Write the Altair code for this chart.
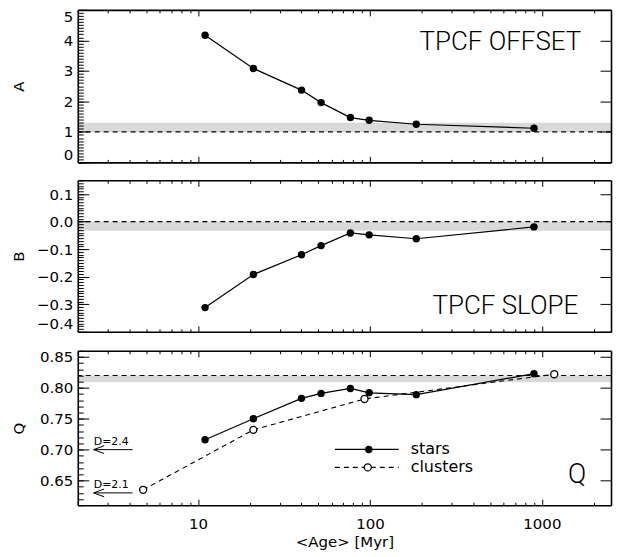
import altair as alt
import pandas as pd

# ---------------- data ----------------
age_stars = [11, 21, 40, 52, 77, 99, 186, 900]
a_stars = [4.17, 3.08, 2.37, 1.96, 1.47, 1.38, 1.25, 1.12]
b_stars = [-0.312, -0.192, -0.120, -0.087, -0.041, -0.048, -0.062, -0.019]
q_stars = [0.716, 0.750, 0.783, 0.791, 0.799, 0.792, 0.789, 0.823]
age_clusters = [4.8, 21, 93, 1180]
q_clusters = [0.635, 0.732, 0.782, 0.822]

arrow_labels = ["D=2.4", "D=2.1"]
arrow_q = [0.70, 0.63]

band_a = [1.0, 1.3]
ref_a = 1.0
band_b = [-0.033, 0.0]
ref_b = 0.0
band_q = [0.809, 0.820]
ref_q = 0.82

x_major = [10, 100, 1000]
x_minor = [2, 3, 4, 5, 6, 7, 8, 9, 20, 30, 40, 50, 60, 70, 80, 90,
           200, 300, 400, 500, 600, 700, 800, 900, 2000]
a_major = [0, 1, 2, 3, 4, 5]
a_minor = [round(i * 0.1, 2) for i in range(0, 51)]
b_major = [-0.4, -0.3, -0.2, -0.1, 0.0, 0.1]
b_minor = [round(-0.4 + i * 0.01, 3) for i in range(0, 56)]
q_major = [0.65, 0.70, 0.75, 0.80, 0.85]
q_minor = [round(0.61 + i * 0.01, 3) for i in range(0, 26)]

# ---------------- style ----------------
FONT = "DejaVu Sans"
BIG = "Roboto"
PW = 535
XT_MAJ, XT_MIN = 6, 3
YT_MAJ, YT_MIN = 11, 5.5
GRAY = "#d9d9d9"
DASH = [5, 4]
FRAME_W = 1.6

xs = alt.Scale(type="log", domain=[2, 2524], nice=False)

stars_df = pd.DataFrame({"age": age_stars, "A": a_stars, "B": b_stars, "Q": q_stars})
clusters_df = pd.DataFrame({"age": age_clusters, "Q": q_clusters})
arrows_df = pd.DataFrame({"q": arrow_q, "label": arrow_labels})


def text_layer(txt, x, y, size, font=FONT, weight="normal", align="center", baseline="alphabetic"):
    return alt.Chart(pd.DataFrame({"t": [txt]})).mark_text(
        font=font, fontSize=size, fontWeight=weight, align=align, baseline=baseline, color="black"
    ).encode(text="t:N", x=alt.value(x), y=alt.value(y))


def tick_axis(orient, values, offset, size):
    return alt.Axis(orient=orient, values=values, offset=offset, tickSize=size, domain=False,
                    grid=False, labels=False, title=None, zindex=1)


def frame_axis(orient):
    return alt.Axis(orient=orient, ticks=False, labels=False, grid=False, domain=True,
                    domainColor="black", domainWidth=FRAME_W, title=None, zindex=1)


def panel(yfield, ydom, ymaj, ymin, yfmt, ytitle, h, flush, band, ref, xlabels, extra):
    ys = alt.Scale(domain=ydom, nice=False, zero=False)
    base = alt.Chart(stars_df).mark_point(opacity=0)

    def X(a):
        return alt.X("age:Q", scale=xs, axis=a)

    def Y(a):
        return alt.Y(f"{yfield}:Q", scale=ys, axis=a)

    if xlabels:
        xb_major = alt.Axis(orient="bottom", values=x_major, offset=-XT_MAJ, tickSize=XT_MAJ,
                            domain=False, grid=False, labels=True, format="d", labelPadding=11,
                            title="<Age> [Myr]", titlePadding=3, zindex=1)
    else:
        xb_major = tick_axis("bottom", x_major, -XT_MAJ, XT_MAJ)
    l1 = base.encode(
        x=X(xb_major),
        y=Y(alt.Axis(orient="left", values=ymaj, offset=-YT_MAJ, tickSize=YT_MAJ, domain=False,
                     grid=False, format=yfmt, labelFlush=flush, labelPadding=5, title=ytitle,
                     titleX=-59 - YT_MAJ, titleY=h / 2, titleAngle=270, titleAlign="center",
                     titleBaseline="middle", zindex=1)),
    )
    l2 = base.encode(x=X(tick_axis("bottom", x_minor, -XT_MIN, XT_MIN)),
                     y=Y(tick_axis("left", ymin, -YT_MIN, YT_MIN)))
    l3 = base.encode(x=X(tick_axis("top", x_major, -XT_MAJ, XT_MAJ)),
                     y=Y(tick_axis("right", ymaj, -YT_MAJ, YT_MAJ)))
    l4 = base.encode(x=X(tick_axis("top", x_minor, -XT_MIN, XT_MIN)), y=Y(frame_axis("left")))
    l5 = base.encode(x=X(frame_axis("bottom")), y=Y(frame_axis("right")))
    l6 = base.encode(x=X(frame_axis("top")), y=Y(None))

    band_l = alt.Chart(pd.DataFrame({"lo": [band[0]], "hi": [band[1]]})).mark_rect(color=GRAY).encode(
        x=alt.value(0), x2=alt.value(PW),
        y=alt.Y("lo:Q", scale=ys, axis=None), y2="hi:Q")
    ref_l = alt.Chart(pd.DataFrame({"v": [ref]})).mark_rule(
        color="black", strokeDash=DASH, strokeWidth=1.2).encode(
        y=alt.Y("v:Q", scale=ys, axis=None))
    layers = [band_l, ref_l] + extra(ys) + [l1, l2, l3, l4, l5, l6]
    return alt.layer(*layers).resolve_axis(x="independent", y="independent").properties(
        width=PW, height=h)


def stars_layers(field):
    def f(ys):
        line = alt.Chart(stars_df).mark_line(color="black", strokeWidth=1.2).encode(
            x=alt.X("age:Q", scale=xs, axis=None), y=alt.Y(f"{field}:Q", scale=ys, axis=None))
        pts = alt.Chart(stars_df).mark_point(filled=True, color="black", size=55, opacity=1).encode(
            x=alt.X("age:Q", scale=xs, axis=None), y=alt.Y(f"{field}:Q", scale=ys, axis=None))
        return [line, pts]
    return f


def extra_a(ys):
    return stars_layers("A")(ys) + [text_layer("TPCF  OFFSET", 424, 40, 26, font=BIG, weight=300)]


def extra_b(ys):
    return stars_layers("B")(ys) + [text_layer("TPCF  SLOPE", 429, 134, 26, font=BIG, weight=300)]


def extra_q(ys):
    cl_line = alt.Chart(clusters_df).mark_line(color="black", strokeWidth=1.1, strokeDash=DASH).encode(
        x=alt.X("age:Q", scale=xs, axis=None), y=alt.Y("Q:Q", scale=ys, axis=None))
    cl_pts = alt.Chart(clusters_df).mark_point(filled=False, fill="white", stroke="black",
                                               strokeWidth=1.3, size=50, opacity=1).encode(
        x=alt.X("age:Q", scale=xs, axis=None), y=alt.Y("Q:Q", scale=ys, axis=None))
    ar_rule = alt.Chart(arrows_df).mark_rule(color="black", strokeWidth=1).encode(
        x=alt.value(16), x2=alt.value(55), y=alt.Y("q:Q", scale=ys, axis=None))
    ar_head = alt.Chart(arrows_df).mark_point(shape="M 1 -0.75 L -1 0 L 1 0.75", filled=False,
                                              stroke="black", strokeWidth=1, size=110, opacity=1).encode(
        x=alt.value(21.2), y=alt.Y("q:Q", scale=ys, axis=None))
    ar_text = alt.Chart(arrows_df).mark_text(font=FONT, fontSize=11, align="left", baseline="alphabetic",
                                             dy=-5, color="black").encode(
        x=alt.value(16), y=alt.Y("q:Q", scale=ys, axis=None), text="label:N")
    one = pd.DataFrame({"k": [0]})
    lg_s_line = alt.Chart(one).mark_rule(color="black", strokeWidth=1.2).encode(
        x=alt.value(258), x2=alt.value(322), y=alt.value(99))
    lg_s_pt = alt.Chart(one).mark_point(filled=True, color="black", size=55, opacity=1).encode(
        x=alt.value(292), y=alt.value(99))
    lg_c_line = alt.Chart(one).mark_rule(color="black", strokeWidth=1.1, strokeDash=DASH).encode(
        x=alt.value(258), x2=alt.value(322), y=alt.value(117))
    lg_c_pt = alt.Chart(one).mark_point(filled=False, fill="white", stroke="black", strokeWidth=1.3,
                                        size=50, opacity=1).encode(x=alt.value(291), y=alt.value(117))
    lg_t1 = text_layer("stars", 334, 99, 16, baseline="middle", align="left")
    lg_t2 = text_layer("clusters", 334, 117, 16, baseline="middle", align="left")
    q_t = text_layer("Q", 501, 133, 27, font=BIG, weight=300)
    return ([cl_line] + stars_layers("Q")(ys)[:1] + [cl_pts] + stars_layers("Q")(ys)[1:] +
            [ar_rule, ar_head, ar_text, lg_s_line, lg_c_line, lg_s_pt, lg_c_pt, lg_t1, lg_t2, q_t])


pA = panel("A", [0, 5], a_major, a_minor, "d", "A", 153, True, band_a, ref_a, False, extra_a)
pB = panel("B", [-0.4, 0.15], b_major, b_minor, ".1f", "B", 152, True, band_b, ref_b, False, extra_b)
pQ = panel("Q", [0.61, 0.86], q_major, q_minor, ".2f", "Q", 155, False, band_q, ref_q, True, extra_q)

chart = alt.vconcat(pA, pB, pQ, spacing=16).properties(
    padding={"left": 3, "top": 0, "right": 0, "bottom": 0},
    background="white",
).configure_view(stroke="transparent").configure_axis(
    labelFont=FONT, labelFontSize=15, labelColor="black",
    titleFont=FONT, titleFontSize=15, titleFontWeight="normal", titleColor="black",
    tickColor="black", tickWidth=1,
)

chart.save("out.html", embed_options={"renderer": "svg", "actions": False})
